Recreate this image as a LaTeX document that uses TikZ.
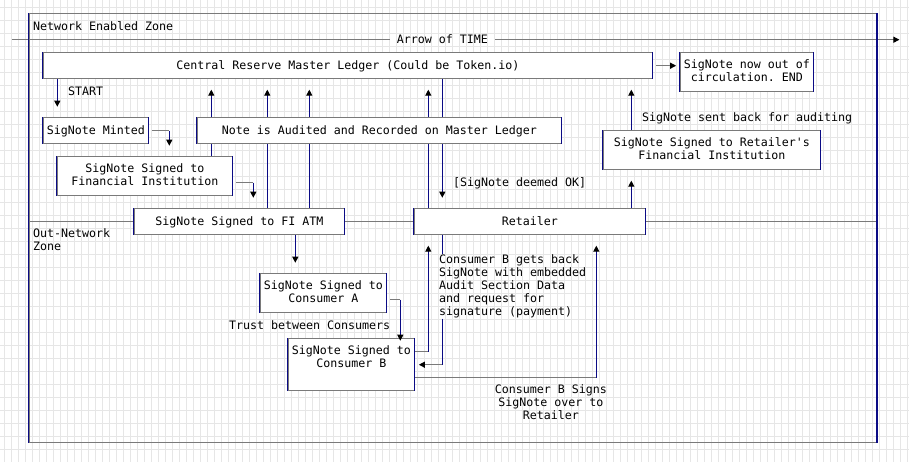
\documentclass[tikz,border=0pt]{standalone}
\usepackage{fontspec}
\setmonofont{DejaVu Sans Mono}
\usetikzlibrary{arrows.meta}
\definecolor{ZoneGray}{HTML}{7A7A7A}
\definecolor{ZoneNavy}{HTML}{0B0B85}
\definecolor{ZoneGrid}{HTML}{E6E6E6}
\newcommand{\rowstrut}{\rule[-2.2pt]{0pt}{9.25pt}}

\begin{document}
\begin{tikzpicture}[
  x=1.75mm, y=-3.25mm,
  every node/.style={font=\ttfamily\fontsize{8.27pt}{9.25pt}\selectfont,inner sep=0pt,
    execute at begin node=\rowstrut,execute at end node=\rowstrut},
  cells/.style 2 args={minimum width=#1*1.75mm,minimum height=#2*3.25mm},
  box/.style={draw=ZoneGray,fill=white,line width=0.8pt,align=center},
  note/.style={anchor=west},
  hlink/.style={draw=ZoneGray,line width=0.8pt},
  vlink/.style={draw=ZoneNavy,line width=0.8pt},
  arr/.style={-{Triangle[length=1.5mm,width=1.5mm,color=black]}},
  gap/.style={shorten >=2.6mm}
]
  \useasboundingbox (-0.186,-0.054) rectangle (129.67,35.48);
  \fill[white] (-0.186,-0.054) rectangle (129.67,35.48);
  \foreach \c in {0,...,130}
    \draw[ZoneGrid,line width=0.7pt] (\c-0.5,-0.5) -- (\c-0.5,36);
  \foreach \r in {0,...,36}
    \draw[ZoneGrid,line width=0.7pt] (-0.5,\r-0.5) -- (130,\r-0.5);

  \node[draw=ZoneGray,line width=0.9pt,cells={121}{33}] (zone) at (64.5,17.5) {};
  \node[note] (zonename) at (4.5,2) {Network Enabled Zone};
  \node[anchor=north west,align=left] (outzone) at (4.5,17.5) {Out-Network\\Zone};

  \coordinate (tstart) at (1.5,3);
  \coordinate (tend) at (128.3,3);
  \node[inner xsep=1.75mm] (time) at (63,3) {Arrow of TIME};
  \draw[hlink] (tstart) -- (time.west);
  \draw[hlink,arr] (time.east) -- (tend);

  \node[box,cells={87}{2}] (ledger) at (49.5,5) {Central Reserve Master Ledger (Could be Token.io)};
  \node[box,cells={19}{3}] (theend) at (106.5,5.5) {SigNote now out of\\circulation. END};
  \node[box,cells={15}{2}] (minted) at (13.5,10) {SigNote Minted};
  \node[box,cells={31}{3}] (retailerfi) at (101.5,11.5) {SigNote Signed to Retailer's\\Financial Institution};
  \node[box,cells={25}{3}] (fi) at (20.5,13.5) {SigNote Signed to\\Financial Institution};
  \node[box,cells={30}{2}] (atm) at (34,17) {SigNote Signed to FI ATM};
  \node[box,cells={33}{2}] (retailer) at (75.5,17) {Retailer};
  \node[box,cells={18}{3}] (consA) at (46,22.5) {SigNote Signed to\\Consumer A};
  \node[box,cells={18}{4}] (consB) at (50,28) {SigNote Signed to\\Consumer B\\};

  \node[note] (start) at (9.5,7) {START};
  \node[note] (deemed) at (64.5,14) {[SigNote deemed OK]};
  \node[note] (sentback) at (91.5,9) {SigNote sent back for auditing};
  \node[note] (trust) at (32.5,25) {Trust between Consumers};
  \node[anchor=north west,align=left] (getback) at (62.5,19.5) {Consumer B gets back\\SigNote with embedded\\Audit Section Data\\and request for\\signature (payment)};
  \node[align=center] (signs) at (78.5,31) {Consumer B Signs\\SigNote over to\\Retailer};

  \draw[vlink,arr,gap] (fi.north -| 30,0) -- (ledger.south -| 30,0);
  \draw[vlink,arr,gap] (atm.north -| 38,0) -- (ledger.south -| 38,0);
  \draw[vlink,arr,gap] (atm.north -| 44,0) -- (ledger.south -| 44,0);
  \draw[vlink,arr,gap] (retailer.north -| 61,0) -- (ledger.south -| 61,0);
  \draw[vlink,arr,gap] (ledger.south -| 63,0) -- (retailer.north -| 63,0);

  \node[box,cells={52}{2}] (audited) at (54,10) {Note is Audited and Recorded on Master Ledger};

  \draw[vlink,arr,gap] (ledger.south -| 8,0) -- (minted.north -| 8,0);
  \draw[hlink,shorten <=0.875mm] (minted.east) -- (24,10) coordinate (m1);
  \draw[vlink,arr,gap] (m1) -- (fi.north -| m1);
  \draw[hlink,shorten <=0.875mm] (fi.east |- 0,14) -- (36,14) coordinate (f1);
  \draw[vlink,arr,gap] (f1) -- (atm.north -| f1);
  \draw[vlink,arr,gap] (atm.south -| 42,0) -- (consA.north -| 42,0);
  \draw[hlink,shorten <=0.875mm] (consA.east |- 0,23) -- (57,23) coordinate (a1);
  \draw[vlink,arr,shorten >=-0.65mm] (a1) -- (consB.north -| a1);
  \draw[hlink] (consB.east |- 0,27) -- (61,27) coordinate (b1);
  \draw[vlink,arr,gap] (b1) -- (retailer.south -| b1);
  \draw[vlink] (retailer.south -| 63,0) -- (getback.north -| 63,0);
  \draw[vlink] (getback.south -| 63,0) -- (63,28) coordinate (r1);
  \draw[hlink,arr,shorten >=1mm] (r1) -- (consB.east |- r1);
  \draw[hlink] (consB.east |- 0,29) -- (85,29) coordinate (b2);
  \draw[vlink,arr,gap] (b2) -- (retailer.south -| b2);
  \draw[vlink,arr,gap] (retailer.north -| 90,0) -- (retailerfi.south -| 90,0);
  \draw[vlink,arr,gap] (retailerfi.north -| 90,0) -- (ledger.south -| 90,0);
  \draw[hlink,arr,shorten <=0.875mm,shorten >=0.9mm] (ledger.east) -- (theend.west |- ledger.east);

  \draw[hlink] (zone.west |- atm.west) -- (atm.west) (atm.east) -- (retailer.west)
    (retailer.east) -- (zone.east |- retailer.east);

  \foreach \n in {zone,ledger,theend,minted,audited,retailerfi,fi,atm,retailer,consA,consB}
    \draw[vlink] (\n.north west) -- (\n.south west) (\n.north east) -- (\n.south east);
\end{tikzpicture}
\end{document}
